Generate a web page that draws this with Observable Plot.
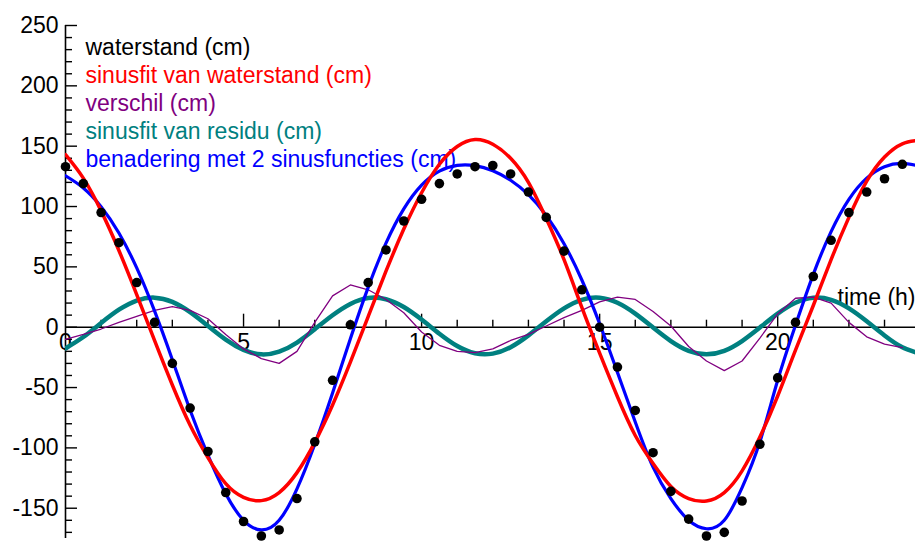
<!DOCTYPE html>
<html>
<head>
<meta charset="utf-8">
<script src="https://cdn.jsdelivr.net/npm/d3@7"></script>
<script src="https://cdn.jsdelivr.net/npm/@observablehq/plot@0.6"></script>
<style>
  html, body { margin: 0; padding: 0; background: #ffffff; }
  #chart svg { display: block; }
</style>
</head>
<body>
<div id="chart"></div>
<script>
// ---- data ----
const hours = [0,0.5,1,1.5,2,2.5,3,3.5,4,4.5,5,5.5,6,6.5,7,7.5,8,8.5,9,9.5,10,10.5,11,11.5,12,12.5,13,13.5,14,14.5,15,15.5,16,16.5,17,17.5,18,18.5,19,19.5,20,20.5,21,21.5,22,22.5,23,23.5,24];

// waterstand (cm), measured points every half hour (0 .. 23.5)
const waterstand = [133,119,95,70,37,4,-30,-67,-103,-137,-161,-173,-168,-142,-95,-44,2,37,64,88,106,119,127,133,134,127,112,91,63,31,0,-33,-69,-104,-136,-159,-173,-170,-144,-97,-42,4,42,72,95,112,123,135];

// sinusfit van waterstand (cm)
const sinusfit = [143,123.5,96.4,63.6,27,-11,-47.9,-81.3,-108,-129.6,-141,-143.7,-137,-120.5,-95.4,-64.4,-28.9,8.8,46.4,81.3,111.4,135,149.7,155.5,151.6,140,120,90,56,16.4,-21.5,-57.6,-89.7,-113,-132,-142,-144,-137,-119,-91,-57,-19,18,56,91,121,141,152,155];

// verschil (cm)
const verschil = [-10,-6,-1.5,4,9,14,17,14,7,-6,-18,-26,-30,-20,4,26,35,31,23,12,-4,-15,-20,-21,-18,-11,-6,1,8,14,21,25,23,13,1,-16,-28,-36,-28,-9,11,24,25,20,4,-8,-14,-17];

// sinusfit van residu (cm)
const residuFit = [-17.5,-8.1,3.5,14.5,22.1,24.5,21,12.5,1.1,-10.3,-18.8,-22.5,-20.2,-12.7,-1.7,9.9,19.3,24.2,23.2,16.7,6.3,-5.4,-15.6,-21.6,-21.9,-16.6,-6.8,4.9,15.6,22.7,24.4,20.2,11.2,-0.3,-11.5,-19.6,-22.5,-19.6,-11.5,-0.3,11.2,20.2,24.4,22.7,15.6,4.9,-6.8,-16.6,-21.9];

// benadering met 2 sinusfuncties (cm)
const benadering = [125.5,115.4,99.9,78.1,49.1,13.5,-26.9,-68.8,-106,-138,-160,-168,-160,-134,-97,-54.5,-9.6,33,69.6,98,117.7,129.3,134.1,133.9,129.7,121.8,109.8,92.6,69.2,39.1,2.9,-37.4,-78.5,-116,-142,-160,-167,-160,-133,-95,-44,1.7,43.8,79.2,105.9,123.5,133,135.7,133.4];

// legend
const legendLabels = ["waterstand (cm)", "sinusfit van waterstand (cm)", "verschil (cm)", "sinusfit van residu (cm)", "benadering met 2 sinusfuncties (cm)"];
const legendColors = ["#000000", "#ff0000", "#800080", "#008080", "#0000ff"];
const xAxisTitle = "time (h)";

// axes ticks
const xLabelValues = [0,5,10,15,20];
const xTickLabels = ["0","5","10","15","20"];
const xMajorTicks = [5,10,15,20];
const xMinorTicks = [1,2,3,4,6,7,8,9,11,12,13,14,16,17,18,19,21,22,23];
const yMajorTicks = [-150,-100,-50,0,50,100,150,200,250];
const yTickLabels = ["-150","-100","-50","0","50","100","150","200","250"];
const yMinorTicks = [-170,-160,-140,-130,-120,-110,-90,-80,-70,-60,-40,-30,-20,-10,10,20,30,40,60,70,80,90,110,120,130,140,160,170,180,190,210,220,230,240];

// ---- tables for the library ----
const curveRows = hours.map((t, i) => ({t, sinusfit: sinusfit[i], residu: residuFit[i], benadering: benadering[i]}));
const pointRows = waterstand.map((v, i) => ({t: hours[i], waterstand: v, verschil: verschil[i]}));

// ---- layout ----
const W = 915, H = 542;
const mL = 65, mR = 0, mT = 25, mB = 0;
const xDomain = [0, 23.87];
const yDomain = [-178.4, 250];
const pxPerX = (W - mL - mR) / (xDomain[1] - xDomain[0]);
const pxPerY = (H - mT - mB) / (yDomain[1] - yDomain[0]);
const FONT = "'Liberation Sans', Arial, Helvetica, sans-serif";
const FS = 23;

const legendMarks = legendLabels.map((label, i) =>
  Plot.text([label], {
    frameAnchor: "top-left", dx: 20, dy: 13 + 28 * i,
    text: d => d, textAnchor: "start", fill: legendColors[i], fontSize: FS
  })
);

const chart = Plot.plot({
  width: W, height: H,
  marginLeft: mL, marginRight: mR, marginTop: mT, marginBottom: mB,
  style: {fontFamily: FONT, fontSize: FS + "px", background: "#ffffff", color: "#000000"},
  x: {domain: xDomain, axis: null, label: null},
  y: {domain: yDomain, axis: null, label: null},
  marks: [
    // axes lines
    Plot.ruleY([0], {stroke: "#000", strokeWidth: 1.6}),
    Plot.ruleX([0], {y1: -175, y2: 250, stroke: "#000", strokeWidth: 1.6}),
    // y ticks (pointing right)
    Plot.ruleY(yMinorTicks, {y: d => d, x1: 0, x2: 7 / pxPerX, stroke: "#000", strokeWidth: 1.4}),
    Plot.ruleY(yMajorTicks, {y: d => d, x1: 0, x2: 12 / pxPerX, stroke: "#000", strokeWidth: 1.4}),
    // x ticks (pointing up)
    Plot.ruleX(xMinorTicks, {x: d => d, y1: 0, y2: 7 / pxPerY, stroke: "#000", strokeWidth: 1.4}),
    Plot.ruleX(xMajorTicks, {x: d => d, y1: 0, y2: 13 / pxPerY, stroke: "#000", strokeWidth: 1.4}),
    // y tick labels
    Plot.axisY(yMajorTicks, {anchor: "left", tickSize: 0, tickPadding: 7, fontSize: FS, label: null,
      tickFormat: d => yTickLabels[yMajorTicks.indexOf(d)]}),
    // x tick labels
    Plot.text(xLabelValues, {x: d => d, y: () => 0, text: (d, i) => xTickLabels[i],
      lineAnchor: "top", dy: 6, fontSize: FS, fill: "#000"}),
    // x axis title
    Plot.text([xAxisTitle], {y: () => 0, frameAnchor: "right", text: d => d, textAnchor: "end",
      dy: -30, fontSize: FS, fill: "#000"}),
    // legend
    ...legendMarks,
    // series
    Plot.line(curveRows, {x: "t", y: "residu", stroke: "#008080", strokeWidth: 4.5, curve: "natural", clip: true}),
    Plot.line(pointRows, {x: "t", y: "verschil", stroke: "#800080", strokeWidth: 1.3, curve: "linear", clip: true}),
    Plot.line(curveRows, {x: "t", y: "benadering", stroke: "#0000ff", strokeWidth: 3.2, curve: "natural", clip: true}),
    Plot.line(curveRows, {x: "t", y: "sinusfit", stroke: "#ff0000", strokeWidth: 3.5, curve: "natural", clip: true}),
    Plot.dot(pointRows, {x: "t", y: "waterstand", r: 4.8, fill: "#000", stroke: "none"})
  ]
});

document.getElementById("chart").appendChild(chart);
</script>
</body>
</html>
